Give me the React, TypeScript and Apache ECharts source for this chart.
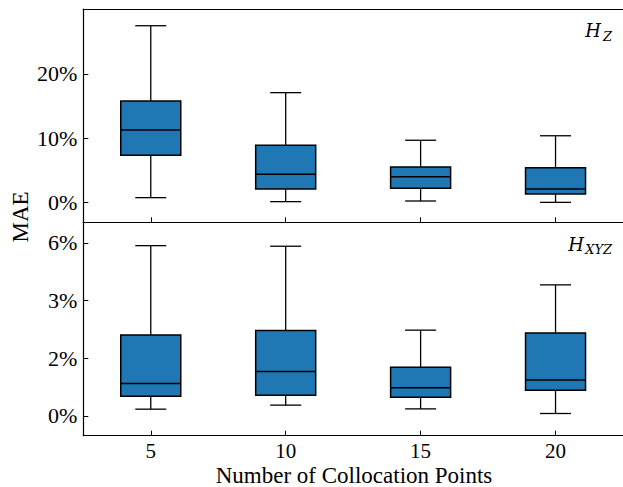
import React, { useEffect, useRef } from 'react';
import * as echarts from 'echarts';

// Box positions (number of collocation points) and x tick labels
const positions = [5, 10, 15, 20];
const xTickLabels = ['5', '10', '15', '20'];

// Top panel (H_Z), values in percent
const hzLow = [0.78, 0.16, 0.26, 0.05];
const hzQ1 = [7.37, 2.13, 2.24, 1.35];
const hzMedian = [11.3, 4.42, 4.04, 2.13];
const hzQ3 = [15.8, 8.93, 5.55, 5.44];
const hzHigh = [27.5, 17.1, 9.7, 10.4];

// Bottom panel (H_XYZ), values on the panel's axis scale
const hxyzLow = [0.23, 0.37, 0.24, 0.08];
const hxyzQ1 = [0.68, 0.71, 0.64, 0.89];
const hxyzMedian = [1.12, 1.54, 0.97, 1.24];
const hxyzQ3 = [2.8, 2.96, 1.68, 2.87];
const hxyzHigh = [5.9, 5.88, 2.97, 4.54];

// Y tick values and labels
const topTickValues = [0, 10, 20];
const topTickLabels = ['0%', '10%', '20%'];
const bottomTickValues = [0, 2, 4, 6];
const bottomTickLabels = ['0%', '2%', '3%', '6%'];

const FONT = "'Liberation Serif', 'DejaVu Serif', serif";
const ITALIC_FONT = "'DejaVu Serif', 'Liberation Serif', serif";
const BOX_COLOR = '#1f77b4';
const BOX_W = 60;
const CAP_W = 31;

function makeData(lo: number[], q1: number[], med: number[], q3: number[], hi: number[]) {
  return positions.map((p, i) => [p, lo[i], q1[i], med[i], q3[i], hi[i]]);
}

function renderBox(params: any, api: any) {
  const x = api.value(0);
  const lo = api.coord([x, api.value(1)]);
  const q1 = api.coord([x, api.value(2)]);
  const med = api.coord([x, api.value(3)]);
  const q3 = api.coord([x, api.value(4)]);
  const hi = api.coord([x, api.value(5)]);
  const cx = lo[0];
  const hw = BOX_W / 2;
  const cw = CAP_W / 2;
  const lineStyle = { stroke: '#000', lineWidth: 1.3 };
  return {
    type: 'group',
    children: [
      { type: 'line', shape: { x1: cx, y1: hi[1], x2: cx, y2: q3[1] }, style: lineStyle },
      { type: 'line', shape: { x1: cx, y1: q1[1], x2: cx, y2: lo[1] }, style: lineStyle },
      { type: 'line', shape: { x1: cx - cw, y1: hi[1], x2: cx + cw, y2: hi[1] }, style: lineStyle },
      { type: 'line', shape: { x1: cx - cw, y1: lo[1], x2: cx + cw, y2: lo[1] }, style: lineStyle },
      {
        type: 'rect',
        shape: { x: cx - hw, y: q3[1], width: BOX_W, height: q1[1] - q3[1] },
        style: { fill: BOX_COLOR, stroke: '#000', lineWidth: 1.5 },
      },
      { type: 'line', shape: { x1: cx - hw, y1: med[1], x2: cx + hw, y2: med[1] }, style: { stroke: '#000', lineWidth: 1.5 } },
    ],
  };
}

const axisLineStyle = { color: '#000', width: 1.2 };

function xAxisBase(gridIndex: number) {
  return {
    type: 'value',
    gridIndex,
    min: 2.5,
    max: 22.5,
    position: 'bottom',
    axisLine: { show: true, onZero: false, lineStyle: axisLineStyle },
    axisTick: { show: true, inside: true, length: 5, customValues: positions, lineStyle: { color: '#000', width: 1 } },
    splitLine: { show: false },
  };
}

export default function App() {
  const ref = useRef<HTMLDivElement>(null);
  useEffect(() => {
    if (!ref.current) return;
    const chart = echarts.init(ref.current, undefined, { renderer: 'svg' });
    const option: any = {
      animation: false,
      backgroundColor: '#fff',
      grid: [
        { left: 83.3, top: 9, width: 542.6, height: 213.3 },
        { left: 83.3, top: 222.3, width: 542.6, height: 213.4 },
      ],
      xAxis: [
        { ...xAxisBase(0), axisLabel: { show: false } },
        {
          type: 'value', gridIndex: 0, min: 2.5, max: 22.5, position: 'top',
          axisLine: { show: true, onZero: false, lineStyle: axisLineStyle },
          axisTick: { show: false }, axisLabel: { show: false }, splitLine: { show: false },
        },
        {
          ...xAxisBase(1),
          axisLabel: {
            show: true,
            customValues: positions,
            formatter: (v: number) => xTickLabels[positions.indexOf(v)] ?? '',
            fontSize: 21,
            lineHeight: 19,
            fontFamily: FONT,
            color: '#000',
            margin: 6,
          },
        },
      ],
      yAxis: [
        {
          type: 'value', gridIndex: 0, min: -3.05, max: 30.1,
          axisLine: { show: true, onZero: false, lineStyle: axisLineStyle },
          axisTick: { show: true, inside: true, length: 5, customValues: topTickValues, lineStyle: { color: '#000', width: 1 } },
          axisLabel: {
            customValues: topTickValues,
            formatter: (v: number) => topTickLabels[topTickValues.indexOf(v)] ?? '',
            fontSize: 22, fontFamily: FONT, color: '#000', margin: 6,
          },
          splitLine: { show: false },
        },
        {
          type: 'value', gridIndex: 1, min: -0.69, max: 6.71,
          axisLine: { show: true, onZero: false, lineStyle: axisLineStyle },
          axisTick: { show: true, inside: true, length: 5, customValues: bottomTickValues, lineStyle: { color: '#000', width: 1 } },
          axisLabel: {
            customValues: bottomTickValues,
            formatter: (v: number) => bottomTickLabels[bottomTickValues.indexOf(v)] ?? '',
            fontSize: 22, fontFamily: FONT, color: '#000', margin: 6,
          },
          splitLine: { show: false },
        },
      ],
      series: [
        {
          type: 'custom', name: 'H_Z', xAxisIndex: 0, yAxisIndex: 0,
          renderItem: renderBox,
          encode: { x: 0, y: [1, 2, 3, 4, 5] },
          data: makeData(hzLow, hzQ1, hzMedian, hzQ3, hzHigh),
          clip: false,
        },
        {
          type: 'custom', name: 'H_XYZ', xAxisIndex: 2, yAxisIndex: 1,
          renderItem: renderBox,
          encode: { x: 0, y: [1, 2, 3, 4, 5] },
          data: makeData(hxyzLow, hxyzQ1, hxyzMedian, hxyzQ3, hxyzHigh),
          clip: false,
        },
      ],
      graphic: [
        {
          type: 'text', x: 20.5, y: 217, rotation: Math.PI / 2,
          style: { text: 'MAE', fontSize: 23, fontFamily: FONT, fill: '#000', align: 'center', verticalAlign: 'middle' },
        },
        {
          type: 'text', x: 354, y: 475.3,
          style: { text: 'Number of Collocation Points', fontSize: 23, lineHeight: 19, fontFamily: FONT, fill: '#000', align: 'center', verticalAlign: 'middle' },
        },
        {
          type: 'text', x: 601, y: 30.5,
          style: { text: 'H', fontSize: 18, fontStyle: 'italic', fontFamily: ITALIC_FONT, fill: '#000', align: 'right', verticalAlign: 'middle' },
        },
        {
          type: 'text', x: 612, y: 36,
          style: { text: 'Z', fontSize: 13, fontStyle: 'italic', fontFamily: ITALIC_FONT, fill: '#000', align: 'right', verticalAlign: 'middle' },
        },
        {
          type: 'text', x: 584, y: 244,
          style: { text: 'H', fontSize: 18, fontStyle: 'italic', fontFamily: ITALIC_FONT, fill: '#000', align: 'right', verticalAlign: 'middle' },
        },
        {
          type: 'text', x: 612, y: 249.5,
          style: { text: 'XYZ', fontSize: 13, fontStyle: 'italic', fontFamily: ITALIC_FONT, fill: '#000', align: 'right', verticalAlign: 'middle' },
        },
      ],
    };
    chart.setOption(option);
    return () => chart.dispose();
  }, []);
  return (
    <div
      ref={ref}
      style={{ position: 'fixed', left: 0, top: 0, width: 623, height: 487, background: '#fff' }}
    />
  );
}
